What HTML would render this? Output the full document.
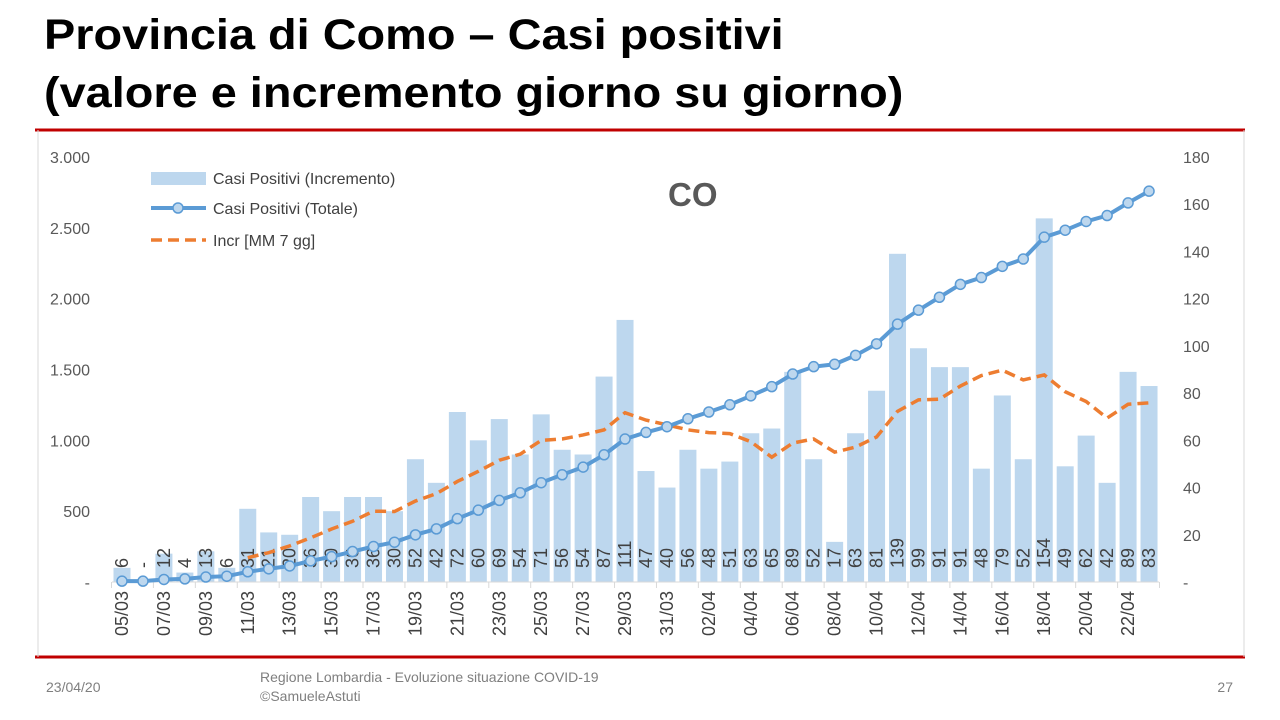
<!DOCTYPE html>
<html><head><meta charset="utf-8"><style>
body{margin:0;width:1280px;height:720px;background:#fff;overflow:hidden;font-family:"Liberation Sans",sans-serif;position:relative}
.t{position:absolute;left:44px;font-weight:bold;font-size:43px;color:#000;transform:scaleX(1.09);transform-origin:left top;white-space:nowrap}
</style></head><body>
<div class="t" style="top:11px">Provincia di Como – Casi positivi</div>
<div class="t" style="top:69px">(valore e incremento giorno su giorno)</div>
<svg id="s" width="1280" height="720" style="position:absolute;left:0;top:0"></svg>
<script>
const v=[6,0,12,4,13,6,31,21,20,36,30,36,36,30,52,42,72,60,69,54,71,56,54,87,111,47,40,56,48,51,63,65,89,52,17,63,81,139,99,91,91,48,79,52,154,49,62,42,89,83];
const X=i=>122+i*20.96, Y0=582, YR=u=>Y0-u*425/180, YL=u=>Y0-u*425/3000;
let h='';
h+='<line x1="35" y1="130" x2="1245" y2="130" stroke="#c00000" stroke-width="3"/>';
h+='<line x1="35" y1="657" x2="1245" y2="657" stroke="#c00000" stroke-width="3"/>';
h+='<line x1="38" y1="130" x2="38" y2="657" stroke="#d9d9d9"/><line x1="1244" y1="130" x2="1244" y2="657" stroke="#d9d9d9"/>';
const L=['3.000','2.500','2.000','1.500','1.000','500','-'],R=[180,160,140,120,100,80,60,40,20,'-'];
L.forEach((t,i)=>{h+=`<text x="90" y="${YL(3000-i*500)+6}" text-anchor="end" font-size="16" fill="#595959">${t}</text>`});
R.forEach((t,i)=>{h+=`<text x="1183" y="${YR(180-i*20)+6}" font-size="16" fill="#595959">${t}</text>`});
v.forEach((a,i)=>{const w=17;h+=`<rect x="${X(i)-w/2}" y="${YR(a)}" width="${w}" height="${Y0-YR(a)}" fill="#bdd7ee"/>`});
h+=`<line x1="${X(0)-10}" y1="${Y0}" x2="${X(49)+10}" y2="${Y0}" stroke="#d9d9d9"/>`;
for(let i=0;i<=25;i++){const x=X(i*2)-10.5;h+=`<line x1="${x}" y1="${Y0}" x2="${x}" y2="${Y0+6}" stroke="#d9d9d9"/>`}
v.forEach((a,i)=>{h+=`<text transform="translate(${X(i)+6},568) rotate(-90)" font-size="18" fill="#404040">${a?a:'-'}</text>`});
let p=[];for(let i=6;i<50;i++){let s=0;for(let j=i-6;j<=i;j++)s+=v[j];p.push(X(i)+','+YR(s/7))}
h+=`<polyline points="${p.join(' ')}" fill="none" stroke="#ed7d31" stroke-width="3.5" stroke-dasharray="11,6"/>`;
let c=0,q=[];v.forEach((a,i)=>{c+=a;q.push([X(i),YL(c)])});
h+=`<polyline points="${q.map(z=>z.join(',')).join(' ')}" fill="none" stroke="#5b9bd5" stroke-width="4"/>`;
q.forEach(z=>{h+=`<circle cx="${z[0]}" cy="${z[1]}" r="5" fill="#bdd7ee" stroke="#5b9bd5" stroke-width="1.5"/>`});
const d=['05/03','07/03','09/03','11/03','13/03','15/03','17/03','19/03','21/03','23/03','25/03','27/03','29/03','31/03','02/04','04/04','06/04','08/04','10/04','12/04','14/04','16/04','18/04','20/04','22/04'];
d.forEach((t,k)=>{h+=`<text transform="translate(${X(k*2)+6},${Y0+9}) rotate(-90)" text-anchor="end" font-size="18" fill="#404040">${t}</text>`});
h+='<rect x="151" y="172" width="55" height="13" fill="#bdd7ee"/><text x="213" y="184" font-size="16" fill="#404040">Casi Positivi (Incremento)</text>';
h+='<line x1="151" y1="208" x2="206" y2="208" stroke="#5b9bd5" stroke-width="4"/><circle cx="178" cy="208" r="5" fill="#bdd7ee" stroke="#5b9bd5" stroke-width="1.5"/><text x="213" y="214" font-size="16" fill="#404040">Casi Positivi (Totale)</text>';
h+='<line x1="151" y1="240" x2="206" y2="240" stroke="#ed7d31" stroke-width="3.5" stroke-dasharray="11,6"/><text x="213" y="246" font-size="16" fill="#404040">Incr [MM 7 gg]</text>';
h+='<text x="668" y="206" font-size="33" font-weight="bold" fill="#595959">CO</text>';
h+='<text x="46" y="692" font-size="14" fill="#7f7f7f">23/04/20</text>';
h+='<text x="260" y="682" font-size="14" fill="#7f7f7f">Regione Lombardia - Evoluzione situazione COVID-19</text>';
h+='<text x="260" y="701" font-size="14" fill="#7f7f7f">©SamueleAstuti</text>';
h+='<text x="1233" y="692" font-size="14" fill="#7f7f7f" text-anchor="end">27</text>';
document.getElementById('s').innerHTML=h;
</script>
</body></html>
